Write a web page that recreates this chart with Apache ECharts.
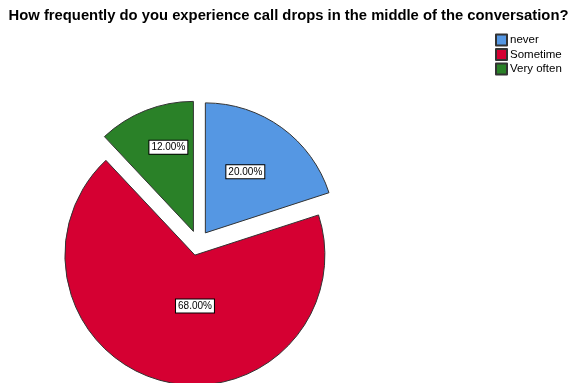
<!DOCTYPE html>
<html>
<head>
<meta charset="utf-8">
<script src="https://cdn.jsdelivr.net/npm/echarts@6/dist/echarts.min.js"></script>
<style>
  html, body { margin: 0; padding: 0; background: #fff; }
  #chart { width: 577px; height: 383px; }
</style>
</head>
<body>
<div id="chart"></div>
<script>
// Survey answers and their shares (percent)
const categories = ['never', 'Sometime', 'Very often'];
const percents = [20.00, 68.00, 12.00];
const colors = ['#5597E3', '#D50032', '#2A8128'];
// nudges for the value boxes so they sit near each slice's centroid
const labelNudges = [[0, -6], [17, -15], [0, -21]];

const chart = echarts.init(document.getElementById('chart'), null, { renderer: 'canvas' });

const data = categories.map((name, i) => ({
  name: name,
  value: percents[i],
  selected: true,
  itemStyle: { color: colors[i] }
}));

chart.setOption({
  animation: false,
  title: {
    text: 'How frequently do you experience call drops in the middle of the conversation?',
    left: 'center',
    top: 3,
    textStyle: { fontFamily: 'Liberation Sans, Arial, sans-serif', fontSize: 14.8, fontWeight: 'bold', color: '#000' }
  },
  legend: {
    orient: 'vertical',
    left: 495,
    top: 33,
    padding: 0,
    icon: 'rect',
    itemWidth: 11,
    itemHeight: 11,
    itemGap: 0.5,
    selectedMode: false,
    textStyle: { fontFamily: 'Liberation Sans, Arial, sans-serif', fontSize: 11.5, lineHeight: 14, color: '#000', padding: [0, 0, 0, -2] },
    data: categories
  },
  series: [{
    type: 'pie',
    center: [198, 243],
    radius: 130,
    startAngle: 90,
    clockwise: true,
    selectedMode: 'multiple',
    selectedOffset: 12.5,
    silent: true,
    itemStyle: { borderColor: '#333', borderWidth: 1 },
    select: { itemStyle: { borderColor: '#333', borderWidth: 1 } },
    label: {
      show: true,
      position: 'inside',
      formatter: p => p.value.toFixed(2) + '%',
      fontFamily: 'Liberation Sans, Arial, sans-serif',
      fontSize: 10,
      color: '#000',
      backgroundColor: '#fff',
      borderColor: '#000',
      borderWidth: 1,
      padding: [2, 2, 1, 2]
    },
    labelLayout: p => ({ dx: labelNudges[p.dataIndex][0], dy: labelNudges[p.dataIndex][1] }),
    labelLine: { show: false },
    data: data
  }]
});
</script>
</body>
</html>
